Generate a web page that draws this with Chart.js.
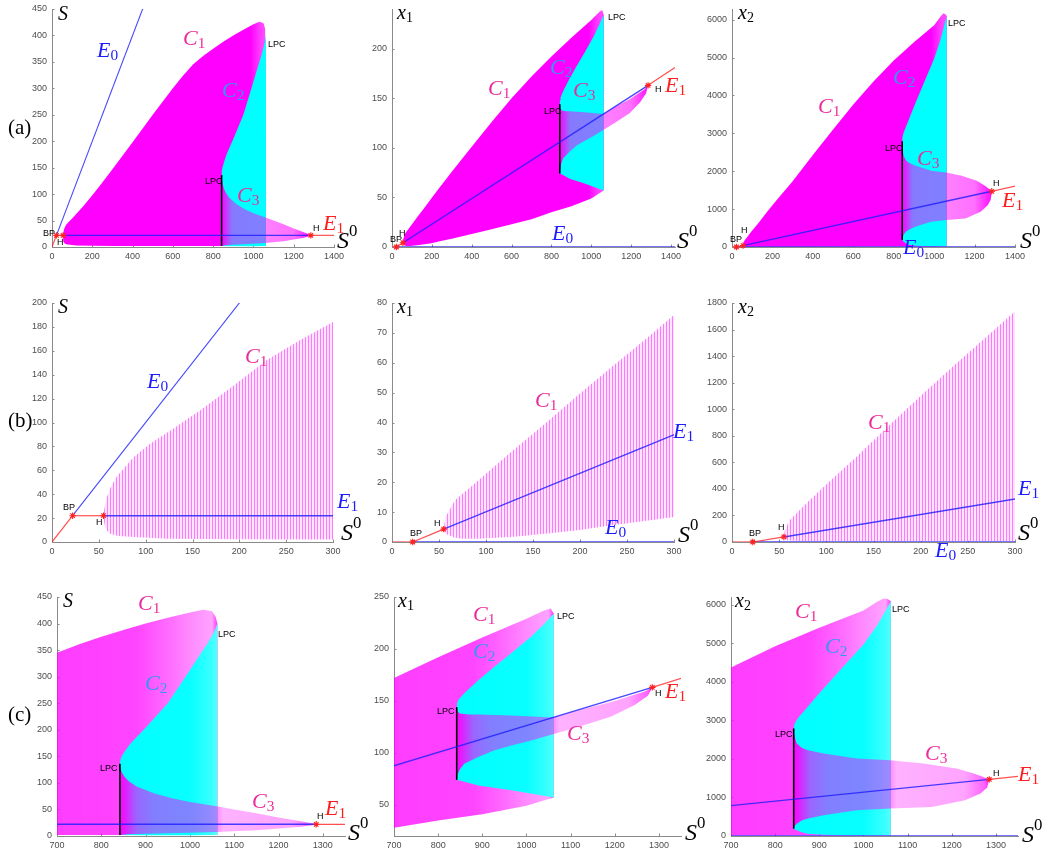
<!DOCTYPE html>
<html><head><meta charset="utf-8">
<script src="https://cdn.jsdelivr.net/npm/chart.js@4.4.1/dist/chart.umd.min.js"></script>
<style>
html,body{margin:0;padding:0;background:#fff}
body{width:1043px;height:852px;position:relative;overflow:hidden}
.lb{position:absolute;white-space:nowrap;line-height:1;z-index:5}
.ax,.cv,.s0{font-family:'Liberation Serif','Times New Roman',serif;font-style:italic}
.ax{font-size:20px}.cv{font-size:22px}.s0{font-size:24px}
.pl{font-family:'Liberation Serif','Times New Roman',serif;font-size:21px}
.sm{font-family:'Liberation Sans',Arial,sans-serif;font-size:9px}
.lb sub,.lb sup{font-style:normal;font-size:0.7em;line-height:0}
.lb sub{vertical-align:-0.22em}
.lb sup{vertical-align:0.7em}
</style></head><body>
<script>
// ---------------- tick labels ----------------
const TICKS_X_A = [0, 200, 400, 600, 800, 1000, 1200, 1400];
const TICKS_X_B = [0, 50, 100, 150, 200, 250, 300];
const TICKS_X_C = [700, 800, 900, 1000, 1100, 1200, 1300];
const TICKS_S_A = [0, 50, 100, 150, 200, 250, 300, 350, 400, 450];
const TICKS_X1_A = [0, 50, 100, 150, 200];
const TICKS_X2_A = [0, 1000, 2000, 3000, 4000, 5000, 6000];
const TICKS_S_B = [0, 20, 40, 60, 80, 100, 120, 140, 160, 180, 200];
const TICKS_X1_B = [0, 10, 20, 30, 40, 50, 60, 70, 80];
const TICKS_X2_B = [0, 200, 400, 600, 800, 1000, 1200, 1400, 1600, 1800];
const TICKS_S_C = [0, 50, 100, 150, 200, 250, 300, 350, 400, 450];
const TICKS_X1_C = [50, 100, 150, 200, 250];
const TICKS_X2_C = [0, 1000, 2000, 3000, 4000, 5000, 6000];

// ---------------- cycle envelopes: S (rows a, c) ----------------
const C1MAX_S_S0 = [55, 56, 60, 70, 90, 100, 155, 200, 250, 300, 400, 500, 550, 600, 650, 700, 750, 800, 850, 900, 950, 1000, 1030, 1050, 1058, 1062];
const C1MAX_S    = [22, 27, 34, 42, 50, 54, 77, 98, 122, 147, 198, 250, 275, 300, 324, 345, 361, 375, 388, 400, 411, 421, 426, 423, 413, 400];
const C1MIN_S_S0 = [55, 56, 58, 62, 70, 87, 122, 200, 300, 600, 1000, 1062];
const C1MIN_S    = [22, 15, 10, 7, 5, 4.2, 2.8, 2.3, 2, 1.8, 1.8, 2];
// S envelopes of row b
const C1MAX_SB_S0 = [55, 56, 58, 62, 69, 87, 105, 122, 158, 194, 229, 265, 300];
const C1MAX_SB    = [22, 28, 36, 45, 54.5, 71, 82.5, 91, 110, 131, 152, 169, 184];
const C1MIN_SB_S0 = [55, 56, 58, 62, 70, 87, 122, 200, 300];
const C1MIN_SB    = [22, 15, 10, 7, 5, 4.2, 2.8, 2.3, 2];

const C2MAX_S_S0 = [842, 843, 846, 852, 862, 872, 900, 950, 990, 1020, 1040, 1055, 1062];
const C2MAX_S    = [136, 143, 150, 158, 170, 180, 204, 250, 300, 338, 363, 385, 400];
const C2MIN_S_S0 = [842, 900, 1000, 1062];
const C2MIN_S    = [2, 1.5, 1.5, 2];
const C3MAX_S_S0 = [842, 843, 846, 852, 862, 880, 920, 960, 1000, 1060, 1100, 1150, 1200, 1250, 1275, 1285];
const C3MAX_S    = [136, 128, 120, 112, 103, 93, 80, 71, 64, 56, 50, 43, 35, 28, 24, 22];
const C3MIN_S_S0 = [842, 860, 950, 1060, 1150, 1200, 1250, 1280, 1285];
const C3MIN_S    = [2, 3.5, 5, 7.5, 11, 14, 17.5, 20.5, 22];
const LPC_S0 = [842, 842];
const LPC_S  = [2, 136];

// ---------------- cycle envelopes: x1 ----------------
const C1MAX_X1_S0 = [55, 57, 67, 92, 127, 163, 198, 234, 269, 300, 400, 500, 600, 700, 800, 900, 1000, 1040, 1055, 1062];
const C1MAX_X1    = [4.3, 8.4, 14, 20.7, 30.2, 39.7, 49.2, 58.7, 67.7, 76, 101, 126, 150, 172, 192, 211, 229, 237, 239, 234];
const C1MIN_X1_S0 = [55, 57, 65, 74, 92, 127, 163, 198, 234, 269, 300, 400, 500, 600, 700, 800, 900, 1000, 1062];
const C1MIN_X1    = [4.3, 2.8, 1.6, 1.1, 1.1, 1.7, 2.8, 3.9, 5.6, 7, 8.4, 13, 18, 23, 28, 35, 41, 49, 57];
const C2MAX_X1_S0 = [842, 843, 846, 852, 861, 891, 928, 966, 1011, 1040, 1055, 1062];
const C2MAX_X1    = [144, 148, 151, 154, 158, 170, 183, 196, 212, 224, 231, 234];
const C2MIN_X1_S0 = [842, 849, 891, 966, 1062];
const C2MIN_X1    = [74, 73.5, 68.7, 64, 57];
const C3MAX_X1_S0 = [842, 844, 849, 870, 891, 966, 1060, 1117, 1192, 1268, 1285];
const C3MAX_X1    = [144, 140, 138, 137, 137, 136, 134, 141, 149, 159, 163];
const C3MIN_X1_S0 = [842, 844, 849, 859, 891, 928, 966, 1011, 1060, 1117, 1192, 1245, 1275, 1285];
const C3MIN_X1    = [74, 79, 84, 89.6, 96, 102.5, 107, 112, 118, 125, 135, 146, 155, 163];
const LPC_X1 = [74, 144];

// ---------------- cycle envelopes: x2 ----------------
const C1MAX_X2_S0 = [55, 56, 61, 80, 97, 132, 167, 203, 238, 274, 300, 400, 500, 600, 700, 800, 900, 1000, 1030, 1045, 1055, 1062];
const C1MAX_X2    = [38, 88, 164, 300, 415, 642, 881, 1120, 1347, 1573, 1737, 2430, 3100, 3760, 4370, 4920, 5400, 5850, 6070, 6160, 6150, 6090];
const C1MIN_X2_S0 = [55, 57, 70, 150, 300, 700, 1000, 1062];
const C1MIN_X2    = [38, 14, 8, 7, 7.5, 10, 15, 20];
const C2MAX_X2_S0 = [842, 843, 846, 852, 864, 900, 950, 1000, 1030, 1045, 1055, 1062];
const C2MAX_X2    = [2790, 2880, 2960, 3060, 3220, 3700, 4340, 4970, 5450, 5740, 5950, 6090];
const C2MIN_X2_S0 = [842, 846, 849, 860, 872, 909, 980, 1062];
const C2MIN_X2    = [190, 165, 147, 95, 61, 35, 22, 20];
const C3MAX_X2_S0 = [842, 843, 846, 849, 860, 872, 910, 985, 1060, 1136, 1211, 1250, 1270, 1285];
const C3MAX_X2    = [2790, 2650, 2500, 2400, 2290, 2228, 2142, 2012, 1968, 1882, 1751, 1620, 1540, 1470];
const C3MIN_X2_S0 = [842, 844, 849, 860, 872, 910, 985, 1060, 1155, 1230, 1265, 1280, 1285];
const C3MIN_X2    = [190, 260, 320, 400, 450, 540, 668, 711, 755, 930, 1100, 1250, 1470];
const LPC_X2 = [190, 2790];

// ---------------- equilibrium branches ----------------
const E0_S0_RED  = [0, 22];     const E0_S_RED  = [0, 22];     const E0_X_RED  = [0, 0];
const E0_S0_BLUE = [22, 1420];  const E0_S_BLUE = [22, 1420];  const E0_X_BLUE = [0, 0];
const E1_S0_RED1 = [22, 55];    const E1_S_RED1 = [22, 22];    const E1_X1_RED1 = [0, 4.3];   const E1_X2_RED1 = [0, 38];
const E1_S0_BLUE = [55, 1285];  const E1_S_BLUE = [22, 22];    const E1_X1_BLUE = [4.3, 163]; const E1_X2_BLUE = [38, 1470];
const E1_S0_RED2 = [1285, 1420];const E1_S_RED2 = [22, 22];    const E1_X1_RED2 = [163, 181]; const E1_X2_RED2 = [1470, 1627];
// special points: BP, H, H
const SP_S0 = [22, 55, 1285];
const SP_S  = [22, 22, 22];
const SP_X1 = [0, 4.3, 163];
const SP_X2 = [0, 38, 1470];

// ---------------- assemble per variable ----------------
const EQ_S  = {e0r:[E0_S0_RED,E0_S_RED], e0b:[E0_S0_BLUE,E0_S_BLUE], e1r1:[E1_S0_RED1,E1_S_RED1], e1b:[E1_S0_BLUE,E1_S_BLUE], e1r2:[E1_S0_RED2,E1_S_RED2], sp:[SP_S0,SP_S]};
const EQ_X1 = {e0r:[E0_S0_RED,E0_X_RED], e0b:[E0_S0_BLUE,E0_X_BLUE], e1r1:[E1_S0_RED1,E1_X1_RED1], e1b:[E1_S0_BLUE,E1_X1_BLUE], e1r2:[E1_S0_RED2,E1_X1_RED2], sp:[SP_S0,SP_X1]};
const EQ_X2 = {e0r:[E0_S0_RED,E0_X_RED], e0b:[E0_S0_BLUE,E0_X_BLUE], e1r1:[E1_S0_RED1,E1_X2_RED1], e1b:[E1_S0_BLUE,E1_X2_BLUE], e1r2:[E1_S0_RED2,E1_X2_RED2], sp:[SP_S0,SP_X2]};
const VARS = {
  S:  Object.assign({c1u:[C1MAX_S_S0,C1MAX_S], c1l:[C1MIN_S_S0,C1MIN_S], c2u:[C2MAX_S_S0,C2MAX_S], c2l:[C2MIN_S_S0,C2MIN_S],
       c3u:[C3MAX_S_S0,C3MAX_S], c3l:[C3MIN_S_S0,C3MIN_S], lpc:[LPC_S0,LPC_S]}, EQ_S),
  SB: Object.assign({c1u:[C1MAX_SB_S0,C1MAX_SB], c1l:[C1MIN_SB_S0,C1MIN_SB]}, EQ_S),
  x1: Object.assign({c1u:[C1MAX_X1_S0,C1MAX_X1], c1l:[C1MIN_X1_S0,C1MIN_X1], c2u:[C2MAX_X1_S0,C2MAX_X1], c2l:[C2MIN_X1_S0,C2MIN_X1],
       c3u:[C3MAX_X1_S0,C3MAX_X1], c3l:[C3MIN_X1_S0,C3MIN_X1], lpc:[LPC_S0,LPC_X1]}, EQ_X1),
  x2: Object.assign({c1u:[C1MAX_X2_S0,C1MAX_X2], c1l:[C1MIN_X2_S0,C1MIN_X2], c2u:[C2MAX_X2_S0,C2MAX_X2], c2l:[C2MIN_X2_S0,C2MIN_X2],
       c3u:[C3MAX_X2_S0,C3MAX_X2], c3l:[C3MIN_X2_S0,C3MIN_X2], lpc:[LPC_S0,LPC_X2]}, EQ_X2)
};

// ---------------- styles ----------------
const MAG = a => `rgba(255,0,255,${a})`;
const STY = {
  a: { c1: [[55,MAG(1)],[985,MAG(1)],[1030,MAG(0.78)],[1055,MAG(0.7)],[1062,MAG(1)]],
       c2: [[842,'#00ffff'],[1062,'#00ffff']],
       c3: [[842,MAG(1)],[858,MAG(0.85)],[895,MAG(0.52)],[1060,MAG(0.5)],[1070,MAG(0.5)],[1200,MAG(0.56)],[1285,MAG(0.95)]] },
  c: { c1: [[700,MAG(0.76)],[880,MAG(0.73)],[960,MAG(0.56)],[1000,MAG(0.46)],[1050,MAG(0.36)],[1062,MAG(0.8)]],
       c2: [[842,'#00ffff'],[1000,'#08ffff'],[1040,'#30ffff'],[1062,'#50ffff']],
       c3: [[842,MAG(1)],[852,MAG(0.9)],[880,MAG(0.6)],[920,MAG(0.5)],[1060,MAG(0.46)],[1075,MAG(0.3)],[1230,MAG(0.36)],[1275,MAG(0.62)],[1285,MAG(0.9)]] }
};
const BLUE_L = 'rgba(30,30,255,0.82)', RED_L = 'rgba(255,30,30,0.78)';

function stripes() {
  const c = document.createElement('canvas'); c.width = 3; c.height = 4;
  const g = c.getContext('2d');
  g.fillStyle = 'rgb(255,228,255)'; g.fillRect(0,0,3,4);
  g.fillStyle = 'rgb(255,120,255)'; g.fillRect(0,0,1,4);
  return g.createPattern(c, 'repeat');
}
const STRIPES = stripes();

function xGradient(chart, stops, fb) {
  const area = chart.chartArea; if (!area) return fb;
  const xs = chart.scales.x;
  const p0 = xs.getPixelForValue(stops[0][0]), p1 = xs.getPixelForValue(stops[stops.length-1][0]);
  const g = chart.ctx.createLinearGradient(p0, 0, p1, 0);
  stops.forEach(([v,c]) => g.addColorStop(Math.min(1, Math.max(0, (xs.getPixelForValue(v)-p0)/(p1-p0))), c));
  return g;
}
const pts = (xs, ys) => xs.map((x,i) => ({x, y: ys[i]}));
const shape = (u, l) => pts(u[0], u[1]).concat(pts(l[0], l[1]).reverse());

function buildDatasets(v, st) {
  const D = VARS[v], ds = [];
  const grad = (stops, fb) => ctx => xGradient(ctx.chart, stops, fb);
  const line = (p, color, w, order) => ({data: pts(p[0], p[1]), borderColor: color, borderWidth: w, pointRadius: 0, fill: false, order});
  ds.push({data: shape(D.c1u, D.c1l), fill: 'shape', backgroundColor: st === 'b' ? STRIPES : grad(STY[st].c1, '#ff00ff'), borderWidth: 0, pointRadius: 0, order: 10});
  if (st !== 'b') {
    ds.push({data: shape(D.c2u, D.c2l), fill: 'shape', backgroundColor: grad(STY[st].c2, '#00ffff'), borderWidth: 0, pointRadius: 0, order: 9});
    ds.push({data: shape(D.c3u, D.c3l), fill: 'shape', backgroundColor: grad(STY[st].c3, MAG(0.5)), borderWidth: 0, pointRadius: 0, order: 8});
    ds.push(line(D.lpc, '#000', 1.6, 5));
  }
  ds.push(line(D.e0r, RED_L, 1.2, 4));
  ds.push(line(D.e0b, BLUE_L, (v === 'S' || v === 'SB') ? 1.1 : 1.6, 4));
  ds.push(line(D.e1r1, RED_L, 1.2, 3));
  ds.push(line(D.e1b, BLUE_L, 1.4, 3));
  ds.push(line(D.e1r2, RED_L, 1.2, 3));
  ds.push({data: pts(D.sp[0], D.sp[1]), showLine: false, pointStyle: 'star', pointRadius: 3.2, borderColor: '#ff2020', backgroundColor: '#ff2020', borderWidth: 1.1, clip: 6, order: 1});
  return ds;
}

const innerTicks = {
  id: 'innerTicks',
  beforeDatasetsDraw(chart) {
    const {ctx, chartArea: a, scales: {x, y}} = chart;
    ctx.save(); ctx.strokeStyle = '#8a8a8a'; ctx.lineWidth = 1; ctx.beginPath();
    x.ticks.forEach(t => { const p = Math.round(x.getPixelForValue(t.value)) + 0.5; ctx.moveTo(p, a.bottom); ctx.lineTo(p, a.bottom - 2.5); });
    y.ticks.forEach(t => { const p = Math.round(y.getPixelForValue(t.value)) + 0.5; ctx.moveTo(a.left, p); ctx.lineTo(a.left + 2.5, p); });
    ctx.stroke(); ctx.restore();
  }
};

const PANELS = [
  {box:[52,9,334,247],   xr:[0,1400],  yr:[0,450],  xt:TICKS_X_A, yt:TICKS_S_A,  v:'S',  st:'a'},
  {box:[392,9,675,247],  xr:[0,1420],  yr:[0,240],  xt:TICKS_X_A, yt:TICKS_X1_A, v:'x1', st:'a'},
  {box:[732,9,1015,247], xr:[0,1400],  yr:[0,6280], xt:TICKS_X_A, yt:TICKS_X2_A, v:'x2', st:'a'},
  {box:[52,303,333,542], xr:[0,300],   yr:[0,200],  xt:TICKS_X_B, yt:TICKS_S_B,  v:'SB', st:'b'},
  {box:[392,303,674,542],xr:[0,300],   yr:[0,80],   xt:TICKS_X_B, yt:TICKS_X1_B, v:'x1', st:'b'},
  {box:[732,303,1015,542],xr:[0,300],  yr:[0,1800], xt:TICKS_X_B, yt:TICKS_X2_B, v:'x2', st:'b'},
  {box:[57,597,345,836], xr:[700,1350],yr:[0,450],  xt:TICKS_X_C, yt:TICKS_S_C,  v:'S',  st:'c'},
  {box:[394,597,681,836],xr:[700,1350],yr:[20,250], xt:TICKS_X_C, yt:TICKS_X1_C, v:'x1', st:'c'},
  {box:[731,597,1018,836],xr:[700,1350],yr:[0,6200],xt:TICKS_X_C, yt:TICKS_X2_C, v:'x2', st:'c'}
];

const PL = 50, PT = 14, PR = 16, PB = 24;
const tickFont = {family: "'Liberation Sans', Arial, sans-serif", size: 9};
PANELS.forEach(P => {
  const [L, T, R, B] = P.box;
  const w = R - L + PL + PR, h = B - T + PT + PB;
  const cv = document.createElement('canvas');
  cv.width = w; cv.height = h;
  cv.style.cssText = `position:absolute;left:${L-PL}px;top:${T-PT}px;width:${w}px;height:${h}px`;
  document.body.appendChild(cv);
  const axisCommon = {
    type: 'linear', grid: {display: false, drawTicks: false},
    border: {display: true, color: '#8a8a8a', width: 1},
  };
  new Chart(cv.getContext('2d'), {
    type: 'line',
    data: {datasets: buildDatasets(P.v, P.st)},
    options: {
      responsive: false, animation: false, maintainAspectRatio: false,
      layout: {padding: {left: 0, top: PT, right: PR, bottom: 0}},
      plugins: {legend: {display: false}, tooltip: {enabled: false}},
      scales: {
        x: Object.assign({}, axisCommon, {min: P.xr[0], max: P.xr[1],
          afterFit(s) { s.height = PB; },
          afterBuildTicks(s) { s.ticks = P.xt.map(value => ({value})); },
          ticks: {color: '#4d4d4d', font: tickFont, padding: 4, maxRotation: 0, autoSkip: false, callback: v => String(v)}}),
        y: Object.assign({}, axisCommon, {min: P.yr[0], max: P.yr[1],
          afterFit(s) { s.width = PL; },
          afterBuildTicks(s) { s.ticks = P.yt.map(value => ({value})); },
          ticks: {color: '#4d4d4d', font: tickFont, padding: 5, autoSkip: false, callback: v => String(v)}})
      }
    },
    plugins: [innerTicks]
  });
});

// ---------------- text labels ----------------
const COL = {k:'#000', pink:'#ec2a9a', lblue:'#3399f0', blue:'#1c1cff', red:'#ff1c1c'};
const SIZE = {ax:20, cv:22, s0:24, pl:21, sm:9};
const ASC = {ax:0.8375, cv:0.8375, s0:0.8375, pl:0.8375, sm:0.8465};
const LABELS = [
 ['S',58,20,'k','ax'], ['E<sub>0</sub>',97,57,'blue','cv'], ['C<sub>1</sub>',183,45,'pink','cv'], ['C<sub>2</sub>',222,97,'lblue','cv'],
 ['C<sub>3</sub>',237,202,'pink','cv'], ['E<sub>1</sub>',323,230,'red','cv'], ['S<sup>0</sup>',337,248,'k','s0'], ['(a)',8,135,'k','pl'],
 ['LPC',268,48,'k','sm'], ['LPC',205,185,'k','sm'], ['BP',43,237,'k','sm'], ['H',57,246,'k','sm'], ['H',313,232,'k','sm'],
 ['x<sub>1</sub>',397,19,'k','ax'], ['C<sub>2</sub>',550,74,'lblue','cv'], ['C<sub>3</sub>',573,97,'pink','cv'], ['C<sub>1</sub>',488,95,'pink','cv'],
 ['E<sub>1</sub>',665,92,'red','cv'], ['H',655,93,'k','sm'], ['LPC',608,21,'k','sm'], ['LPC',544,115,'k','sm'], ['E<sub>0</sub>',552,240,'blue','cv'],
 ['S<sup>0</sup>',677,248,'k','s0'], ['BP',390,243,'k','sm'], ['H',399,237,'k','sm'],
 ['x<sub>2</sub>',738,19,'k','ax'], ['C<sub>2</sub>',893,84,'lblue','cv'], ['C<sub>1</sub>',818,113,'pink','cv'], ['C<sub>3</sub>',917,165,'pink','cv'],
 ['LPC',948,27,'k','sm'], ['LPC',885,152,'k','sm'], ['H',993,187,'k','sm'], ['E<sub>1</sub>',1002,207,'red','cv'], ['S<sup>0</sup>',1020,248,'k','s0'],
 ['E<sub>0</sub>',903,254,'blue','cv'], ['BP',730,243,'k','sm'], ['H',741,234,'k','sm'],
 ['S',58,313,'k','ax'], ['E<sub>0</sub>',147,388,'blue','cv'], ['C<sub>1</sub>',245,363,'pink','cv'], ['E<sub>1</sub>',337,508,'blue','cv'], ['(b)',8,428,'k','pl'],
 ['BP',63,511,'k','sm'], ['H',96,526,'k','sm'], ['S<sup>0</sup>',341,540,'k','s0'],
 ['x<sub>1</sub>',397,313,'k','ax'], ['C<sub>1</sub>',535,407,'pink','cv'], ['E<sub>1</sub>',673,438,'blue','cv'], ['E<sub>0</sub>',605,534,'blue','cv'],
 ['S<sup>0</sup>',678,542,'k','s0'], ['BP',410,537,'k','sm'], ['H',434,527,'k','sm'],
 ['x<sub>2</sub>',738,313,'k','ax'], ['C<sub>1</sub>',868,429,'pink','cv'], ['E<sub>1</sub>',1018,495,'blue','cv'], ['S<sup>0</sup>',1018,540,'k','s0'],
 ['E<sub>0</sub>',935,557,'blue','cv'], ['BP',749,537,'k','sm'], ['H',778,531,'k','sm'],
 ['S',63,607,'k','ax'], ['C<sub>1</sub>',138,610,'pink','cv'], ['C<sub>2</sub>',145,690,'lblue','cv'], ['C<sub>3</sub>',252,808,'pink','cv'],
 ['E<sub>1</sub>',325,815,'red','cv'], ['H',317,820,'k','sm'], ['LPC',218,638,'k','sm'], ['LPC',100,772,'k','sm'], ['(c)',8,722,'k','pl'], ['S<sup>0</sup>',348,840,'k','s0'],
 ['x<sub>1</sub>',398,607,'k','ax'], ['C<sub>1</sub>',473,621,'pink','cv'], ['C<sub>2</sub>',473,658,'lblue','cv'], ['C<sub>3</sub>',567,740,'pink','cv'],
 ['E<sub>1</sub>',665,698,'red','cv'], ['H',655,697,'k','sm'], ['LPC',557,620,'k','sm'], ['LPC',437,715,'k','sm'], ['S<sup>0</sup>',685,840,'k','s0'],
 ['x<sub>2</sub>',735,607,'k','ax'], ['C<sub>1</sub>',795,618,'pink','cv'], ['C<sub>2</sub>',825,653,'lblue','cv'], ['C<sub>3</sub>',925,760,'pink','cv'],
 ['E<sub>1</sub>',1018,781,'red','cv'], ['H',993,777,'k','sm'], ['LPC',892,613,'k','sm'], ['LPC',775,738,'k','sm'], ['S<sup>0</sup>',1022,842,'k','s0']
];
LABELS.forEach(([html, x, base, col, cls]) => {
  const d = document.createElement('div');
  d.className = 'lb ' + cls;
  d.innerHTML = html;
  d.style.left = x + 'px';
  d.style.top = (base - ASC[cls] * SIZE[cls]) + 'px';
  d.style.color = COL[col];
  document.body.appendChild(d);
});
</script>
</body></html>
